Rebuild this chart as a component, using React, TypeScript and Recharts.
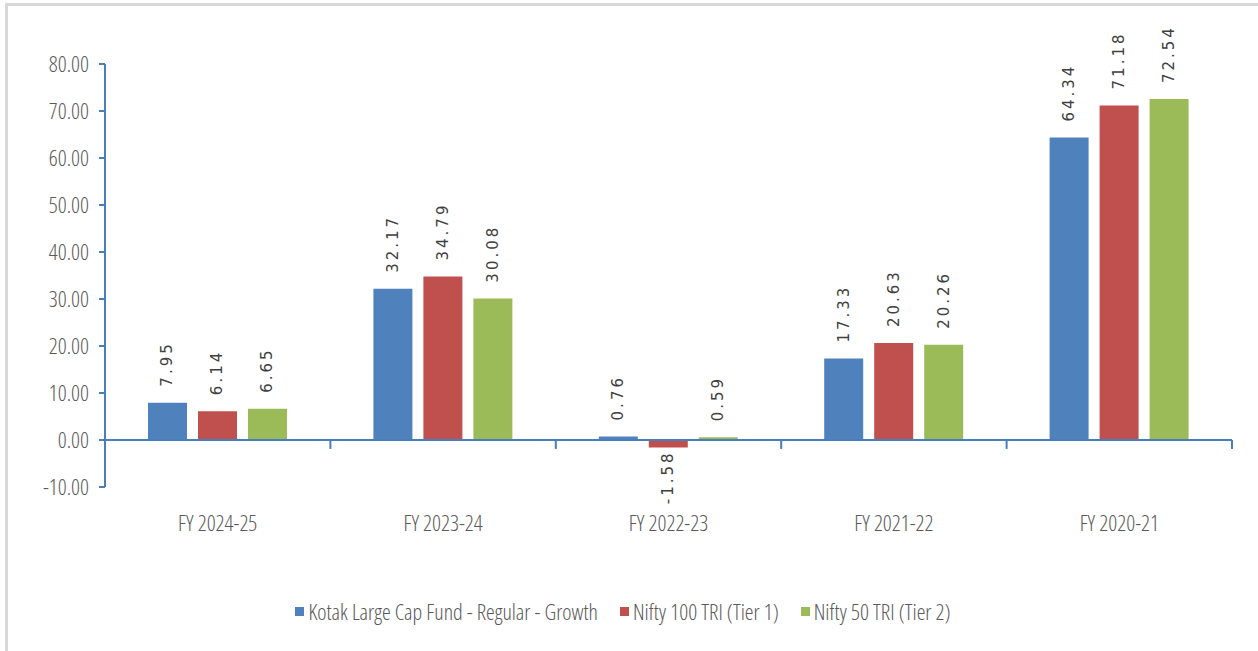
import * as React from "react";
import { Bar, BarChart, LabelList, Legend, ReferenceLine, XAxis, YAxis } from "recharts";

const categories = ["FY 2024-25", "FY 2023-24", "FY 2022-23", "FY 2021-22", "FY 2020-21"];
const fundReturns = [7.95, 32.17, 0.76, 17.33, 64.34];
const nifty100Returns = [6.14, 34.79, -1.58, 20.63, 71.18];
const nifty50Returns = [6.65, 30.08, 0.59, 20.26, 72.54];
const yTicks = [-10, 0, 10, 20, 30, 40, 50, 60, 70, 80];
const boundaries = [1, 2, 3, 4, 5];

const series = [
  { key: "fund", name: "Kotak Large Cap Fund - Regular - Growth", color: "#4F81BD" },
  { key: "nifty100", name: "Nifty 100 TRI (Tier 1)", color: "#C0504D" },
  { key: "nifty50", name: "Nifty 50 TRI (Tier 2)", color: "#9BBB59" },
];

const data = categories.map((c, i) => ({
  category: c,
  slot: i + 0.5,
  fund: fundReturns[i],
  nifty100: nifty100Returns[i],
  nifty50: nifty50Returns[i],
}));

const AXIS = "#4A7EBB";
const TEXT = "#595959";
const FONT = "'Open Sans', sans-serif";
const STRETCH = "condensed";
const WEIGHT = 350;

function ValueLabel(props: any) {
  const { x, y, width, height, value } = props;
  const cx = Number(x) + Number(width) / 2;
  const top = Math.min(Number(y), Number(y) + Number(height));
  const bottom = Math.max(Number(y), Number(y) + Number(height));
  const neg = Number(value) < 0;
  const ay = neg ? bottom + 3 : top - 16;
  return (
    <text
      x={cx}
      y={ay}
      transform={`rotate(-90 ${cx} ${ay})`}
      textAnchor={neg ? "end" : "start"}
      dominantBaseline="central"
      fill="#404040"
      fontSize={15}
      letterSpacing={3}
      fontFamily="'DejaVu Sans', Verdana, sans-serif"
    >
      {Number(value).toFixed(2)}
    </text>
  );
}

function LegendContent() {
  return (
    <div style={{ display: "flex", justifyContent: "center", alignItems: "center", gap: 22, fontFamily: FONT, fontStretch: STRETCH, fontWeight: WEIGHT, fontSize: 22, color: TEXT, height: 28, paddingLeft: 14 }}>
      {series.map((s) => (
        <div key={s.key} style={{ display: "flex", alignItems: "center", gap: 4 }}>
          <span style={{ width: 9, height: 9, background: s.color, display: "inline-block" }} />
          <span>{s.name}</span>
        </div>
      ))}
    </div>
  );
}

export default function App() {
  const tickStyle = { fill: TEXT, fontSize: 22, fontFamily: FONT, fontWeight: WEIGHT, style: { fontStretch: STRETCH } };
  return (
    <div style={{ position: "absolute", left: 0, top: 0, width: 1258, height: 651, background: "#fff" }}>
      <div style={{ position: "absolute", left: 5, top: 3, right: 0, bottom: 0, borderLeft: "3px solid #d9d9d9", borderTop: "3px solid #d9d9d9" }} />
      <div style={{ position: "absolute", left: 0, top: 0 }}>
        <BarChart
          width={1258}
          height={651}
          data={data}
          margin={{ top: 64, right: 26, left: 0, bottom: 66 }}
          barSize={39}
          barGap={11}
        >
          <XAxis
            xAxisId="cat"
            dataKey="category"
            axisLine={false}
            tickLine={false}
            tickSize={0}
            tickMargin={28}
            height={70}
            tick={tickStyle}
          />
          <XAxis xAxisId="grid" dataKey="slot" type="number" domain={[0, 5]} allowDataOverflow hide />
          <YAxis
            domain={[-10, 80]}
            ticks={yTicks}
            interval={0}
            width={105}
            tickSize={6}
            tickMargin={10}
            tickFormatter={(v: number) => v.toFixed(2)}
            axisLine={{ stroke: AXIS, strokeWidth: 2 }}
            tickLine={{ stroke: AXIS, strokeWidth: 2 }}
            tick={tickStyle}
          />
          {series.map((s) => (
            <Bar key={s.key} xAxisId="cat" dataKey={s.key} name={s.name} fill={s.color} isAnimationActive={false}>
              <LabelList dataKey={s.key} content={ValueLabel} />
            </Bar>
          ))}
          <ReferenceLine xAxisId="cat" y={0} stroke={AXIS} strokeWidth={2} />
          {boundaries.map((b) => (
            <ReferenceLine
              key={b}
              xAxisId="grid"
              segment={[{ x: b, y: 0 }, { x: b, y: -1.9 }]}
              stroke={AXIS}
              strokeWidth={2}
            />
          ))}
          <Legend verticalAlign="bottom" content={LegendContent} wrapperStyle={{ bottom: 26 }} />
        </BarChart>
      </div>
    </div>
  );
}
